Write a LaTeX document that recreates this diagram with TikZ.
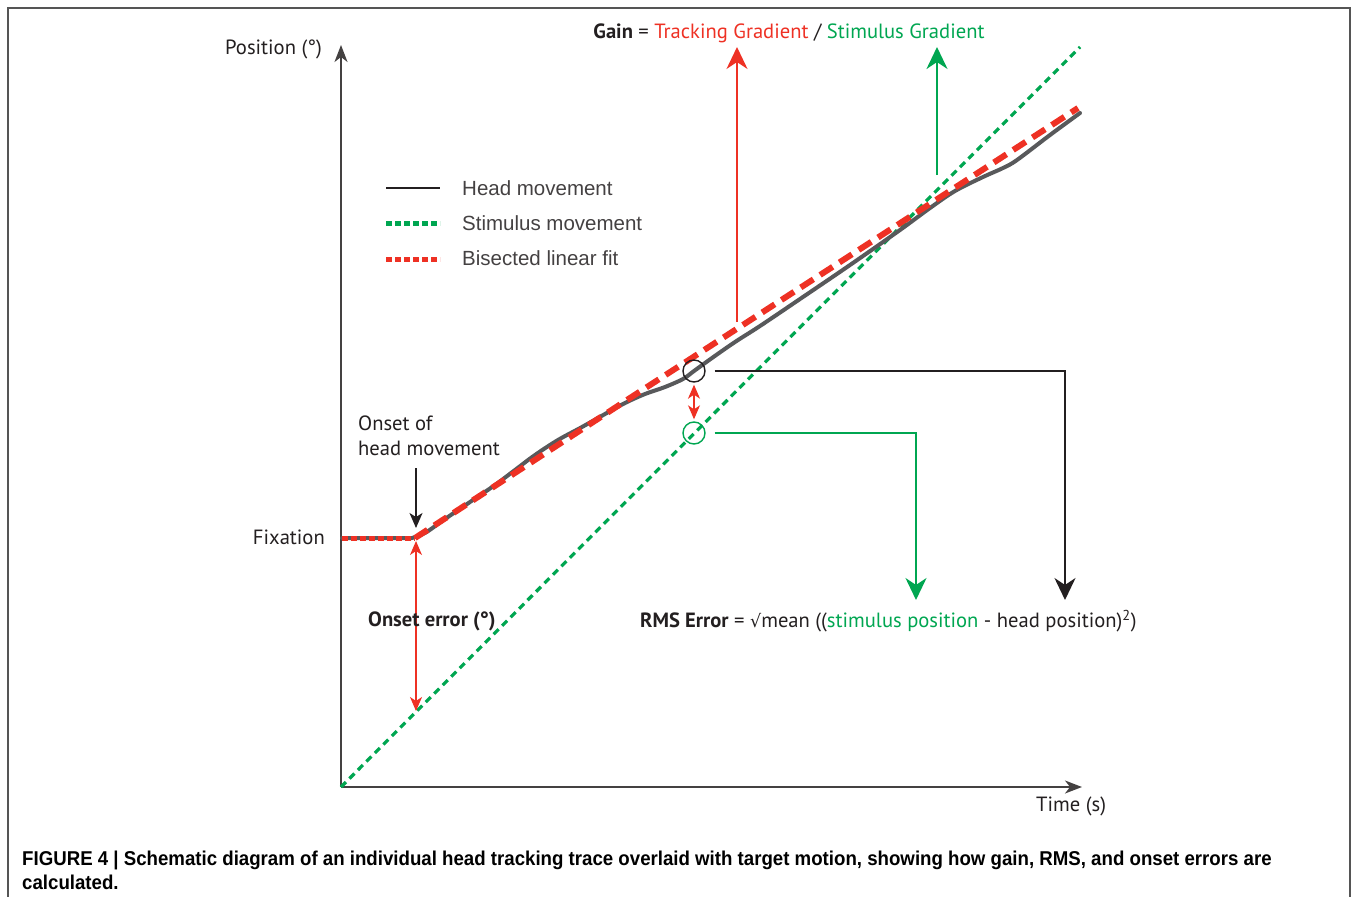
\documentclass[tikz,border=0pt]{standalone}
\usepackage{fontspec}
\setmainfont{PT Sans}
\newfontfamily\arialf{Liberation Sans}
\newfontfamily\dejavu{DejaVu Sans}
\usetikzlibrary{arrows.meta}
\definecolor{myred}{HTML}{EE3124}
\definecolor{mygreen}{HTML}{00A651}
\definecolor{ink}{HTML}{231F20}
\definecolor{tracegray}{HTML}{58595B}
\definecolor{framegray}{HTML}{555555}
\begin{document}
\begin{tikzpicture}[x=1pt,y=-1pt,
  lbl/.style={font=\fontsize{20.6}{25}\selectfont, text=ink, inner sep=0pt},
  legtext/.style={font=\arialf\fontsize{20.5}{24}\selectfont, text=ink!85, inner sep=0pt, anchor=west},
  captext/.style={font=\arialf\bfseries\fontsize{20}{24}\selectfont, text=black, inner sep=0pt, anchor=base west},
  axisline/.style={draw=ink!85, line width=1.6pt, -{Stealth[length=17pt,width=13pt,inset=5pt]}},
  stimline/.style={draw=mygreen, line width=3.2pt, dash pattern=on 7pt off 5pt},
  fitline/.style={draw=myred, line width=6pt, dash pattern=on 15pt off 8pt},
  fitdot/.style={draw=myred, line width=5pt, dash pattern=on 6pt off 3pt},
  stimdot/.style={draw=mygreen, line width=5pt, dash pattern=on 6pt off 3pt},
  headline/.style={draw=tracegray, line width=4pt, line cap=round, line join=round},
  ring/.style={circle, minimum size=22pt, inner sep=0pt, line width=1.4pt},
  bigtip/.style={-{Stealth[length=22pt,width=21pt,inset=7pt]}},
  redarrow/.style={draw=myred, line width=2.2pt},
  greenarrow/.style={draw=mygreen, line width=2.6pt},
  blackarrow/.style={draw=ink, line width=2.6pt},
  thinred/.style={draw=myred, line width=1.4pt, {Stealth[length=14pt,width=12pt,inset=4pt]}-{Stealth[length=14pt,width=12pt,inset=4pt]}}
]
\useasboundingbox (0,0) rectangle (1358,897);
% frame
\draw[draw=framegray, line width=2pt] (1350,897) -- (1350,8) -- (8,8) -- (8,897);

% axes
\coordinate (O) at (341,787);
\coordinate (ytip) at (341,45);
\coordinate (xtip) at (1082,787);
\draw[axisline] (O) -- (ytip);
\draw[axisline] (O) -- (xtip);
\node[lbl, anchor=east] (ylab) at (322,49) {Position (°)};
\node[lbl, anchor=west] (xlab) at (1036,806) {Time (s)};
\node[lbl, anchor=east] (fix) at (325,537) {Fixation};

% stimulus line
\coordinate (stimend) at (1080,47);
\draw[stimline] (O) -- (stimend);

% head trace
\coordinate (fixstart) at (342,538);
\coordinate (onset) at (415,538);
\draw[headline] (fixstart) -- (412,538)
  plot[smooth, tension=0.55] coordinates {(412,538) (425,533) (445,519) (470,502) (495,485) (515,470) (535,455) (558,440) (582,427) (605,414) (625,403) (645,394) (665,387) (683,379) (694,371) (712,358) (735,342) (760,326) (800,299) (850,265) (900,230) (930,208) (955,191) (983,177) (1003,168) (1017,160) (1050,135) (1080,113)};

% bisected linear fit
\coordinate (bend) at (630,398);
\coordinate (fitend) at (1078,108);
\draw[fitdot] (fixstart) -- (onset);
\draw[fitline] (onset) -- (bend) -- (fitend);

% rings
\node[ring, draw=ink] (bc) at (694,371) {};
\node[ring, draw=mygreen] (gc) at (694,433) {};
\draw[thinred, shorten <=2pt, shorten >=2pt] (bc.south) -- (gc.north);

% RMS connectors
\coordinate (bcorner) at (1065,371);
\coordinate (btip) at (1065,600);
\coordinate (gcorner) at (916,433);
\coordinate (gtip) at (916,600);
\draw[blackarrow, bigtip] ([xshift=9pt]bc.east) -- (bcorner) -- (btip);
\draw[greenarrow, bigtip] ([xshift=9pt]gc.east) -- (gcorner) -- (gtip);

% gain arrows
\coordinate (rstart) at (737,322);
\coordinate (rtip) at (737,47);
\coordinate (gstart) at (937,175);
\coordinate (gtop) at (937,47);
\draw[redarrow, bigtip] (rstart) -- (rtip);
\draw[greenarrow, bigtip] (gstart) -- (gtop);

% gain formula
\node[lbl, anchor=center] (gain) at (789,33) {\textbf{Gain} = \textcolor{myred}{Tracking Gradient} / \textcolor{mygreen}{Stimulus Gradient}};

% RMS formula
\node[lbl, anchor=west] (rms) at (640,621) {\textbf{RMS Error} = {\dejavu\fontsize{17.5}{20}\selectfont √}mean ((\textcolor{mygreen}{stimulus position} - head position)\textsuperscript{2})};

% onset labels
\node[lbl, anchor=north west, align=left] (onsetlab) at (358,416) {Onset of\\head movement};
\coordinate (onarrtop) at (416,468);
\coordinate (onarrtip) at (416,528);
\draw[draw=ink, line width=1.4pt, -{Stealth[length=15pt,width=13pt,inset=4pt]}] (onarrtop) -- (onarrtip);
\coordinate (oetop) at (416,541);
\coordinate (oebot) at (416,711);
\draw[thinred] (oetop) -- (oebot);
\node[lbl, anchor=west] (oelab) at (368,621) {\textbf{Onset error (°)}};

% legend
\coordinate (l1a) at (386,188); \coordinate (l1b) at (440,188);
\coordinate (l2a) at (386,223); \coordinate (l2b) at (440,223);
\coordinate (l3a) at (386,259); \coordinate (l3b) at (440,259);
\draw[draw=ink, line width=2.8pt] (l1a) -- (l1b);
\draw[stimdot] (l2a) -- (l2b);
\draw[fitdot] (l3a) -- (l3b);
\node[legtext] (leg1) at (462,188) {Head movement};
\node[legtext] (leg2) at (462,223) {Stimulus movement};
\node[legtext] (leg3) at (462,258) {Bisected linear fit};

% caption
\node[captext] (cap1) at (22,865) {\scalebox{0.933}[1]{FIGURE 4 | Schematic diagram of an individual head tracking trace overlaid with target motion, showing how gain, RMS, and onset errors are}};
\node[captext] (cap2) at (22,889) {\scalebox{0.933}[1]{calculated.}};
\end{tikzpicture}
\end{document}
